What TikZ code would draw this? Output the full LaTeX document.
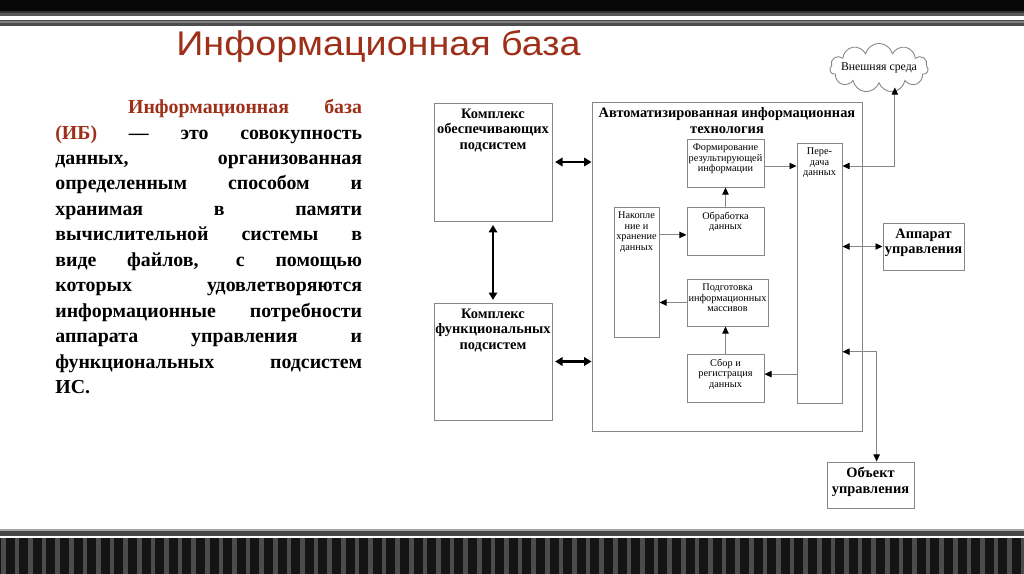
\documentclass[tikz,border=0pt]{standalone}
\usepackage{fontspec}
\setmainfont{Liberation Serif}
\newfontfamily\headfont{Liberation Sans}
\usetikzlibrary{arrows.meta,shapes.symbols,fit}
\definecolor{titlered}{RGB}{158,48,26}
\definecolor{boxgray}{RGB}{135,135,135}

\begin{document}
\begin{tikzpicture}[x=0.02cm,y=-0.02cm,
    box/.style={draw=boxgray,line width=0.55pt,inner sep=0pt},
    boxtext/.style={anchor=north,align=center,inner sep=3.3pt,font=\bfseries\fontsize{8.2}{8.9}\selectfont},
    smalltext/.style={anchor=north,align=center,inner sep=2.8pt,font=\fontsize{5.85}{6}\selectfont},
    thin arrow/.style={draw=boxgray,line width=0.5pt,-{Triangle[length=4pt,width=3.6pt,color=black]}},
    thin both/.style={draw=boxgray,line width=0.5pt,{Triangle[length=4pt,width=3.6pt,color=black]}-{Triangle[length=4pt,width=3.6pt,color=black]}},
    thick both/.style={draw=black,line width=1.6pt,{Triangle[length=4.2pt,width=4.8pt]}-{Triangle[length=4.2pt,width=4.8pt]}}]
        \useasboundingbox (0,0) rectangle (1024,574);
        \fill[white] (0,0) rectangle (1024,574);
        % top bands
        \fill[black!97] (0,0) rectangle (1024,11);
        \fill[black!80] (0,11) rectangle (1024,13);
        \fill[black!65] (0,13) rectangle (1024,16.5);
        \fill[black!70] (0,20) rectangle (1024,26);
        \fill[black!50] (0,21.5) rectangle (1024,23);
        % bottom bands
        \fill[black!35] (0,529) rectangle (1024,531);
        \fill[black!72] (0,531) rectangle (1024,535.5);
        \fill[black!92] (0,538) rectangle (1024,574);
        \foreach \i in {0,...,75}
            \fill[black!70] (\i*13.6+1,538) rectangle (\i*13.6+5.5,574);
        % title
        \node[anchor=base west,inner sep=0pt,xscale=1.1,text=titlered,font=\headfont\fontsize{19.5}{22}\selectfont] (title) at (176,56) {Информационная база};
        % definition
        \node[anchor=north west,inner sep=0pt,text width=174.6pt,align=justify,
              font=\bfseries\fontsize{11.3}{14.5}\selectfont] (defn) at (55,99)
            {\hyphenpenalty=10000\hspace*{41.4pt}\textcolor{titlered}{Информационная база\linebreak
            (ИБ)} — это совокупность\linebreak
            данных, организованная\linebreak
            определенным способом и\linebreak
            хранимая в памяти\linebreak
            вычислительной системы в\linebreak
            виде файлов, с помощью\linebreak
            которых удовлетворяются\linebreak
            информационные потребности\linebreak
            аппарата управления и\linebreak
            функциональных подсистем\linebreak
            ИС.};
        % outer boxes
        \node[box,fit={(434,103) (552,221)},label={[boxtext]north:Комплекс\\обеспечивающих\\подсистем}] (obesp) {};
        \node[box,fit={(434,303) (552,420)},label={[boxtext]north:Комплекс\\функциональных\\подсистем}] (funk) {};
        \node[box,fit={(592,102) (862,431)},label={[boxtext]north:Автоматизированная информационная\\технология}] (ait) {};
        \node[box,fit={(883,223) (964,270)},label={[boxtext]north:Аппарат\\управления}] (app) {};
        \node[box,fit={(827,462) (914,508)},label={[boxtext]north:Объект\\управления}] (obj) {};
        \node[cloud,draw=boxgray,line width=0.5pt,cloud puffs=11,cloud ignores aspect,minimum width=56pt,minimum height=28pt,
              inner sep=0pt,label={[font=\fontsize{6.7}{7}\selectfont]center:Внешняя среда}] (env) at (879,68) {};
        % inner boxes
        \node[box,fit={(687,139) (764,187)},label={[smalltext]north:Формирование\\результирующей\\информации}] (form) {};
        \node[box,fit={(687,207) (764,255)},label={[smalltext]north:Обработка\\данных}] (obr) {};
        \node[box,fit={(614,207) (659,337)},label={[smalltext]north:Накопле\\ние и\\хранение\\данных}] (nakop) {};
        \node[box,fit={(687,279) (768,326)},label={[smalltext]north:Подготовка\\информационных\\массивов}] (podg) {};
        \node[box,fit={(687,354) (764,402)},label={[smalltext]north:Сбор и\\регистрация\\данных}] (sbor) {};
        \node[box,fit={(797,143) (842,403)},label={[smalltext]north:Пере-\\дача\\данных}] (pered) {};
        % thick arrows
        \draw[thick both] ([xshift=1.5pt]obesp.east) -- (obesp.east -| ait.west);
        \draw[thick both] ([xshift=1.5pt]funk.east) -- (funk.east -| ait.west);
        \draw[thick both] ([yshift=-2pt]obesp.south) -- ([yshift=1.5pt]funk.north);
        % inner arrows
        \draw[thin arrow] ([yshift=-1.7pt]form.east) -- ([yshift=-1.7pt]form.east -| pered.west);
        \draw[thin arrow] (obr.north) -- (form.south);
        \draw[thin arrow] ([yshift=-2.2pt]nakop.east |- obr.west) -- ([yshift=-2.2pt]obr.west);
        \draw[thin arrow] (podg.west) -- (podg.west -| nakop.east);
        \draw[thin arrow] (sbor.north) -- (sbor.north |- podg.south);
        \draw[thin arrow] ([yshift=2.2pt]sbor.east -| pered.west) -- ([yshift=2.2pt]sbor.east);
        % outer links
        \draw[thin both] ([yshift=-1.7pt]form.east -| pered.east) -| ([xshift=9pt,yshift=-2pt]env.south);
        \draw[thin both] (pered.east |- app.west) -- (app.west);
        \draw[thin both] ([yshift=-44.8pt]pered.east) -| ([xshift=3.5pt]obj.north);
\end{tikzpicture}
\end{document}
